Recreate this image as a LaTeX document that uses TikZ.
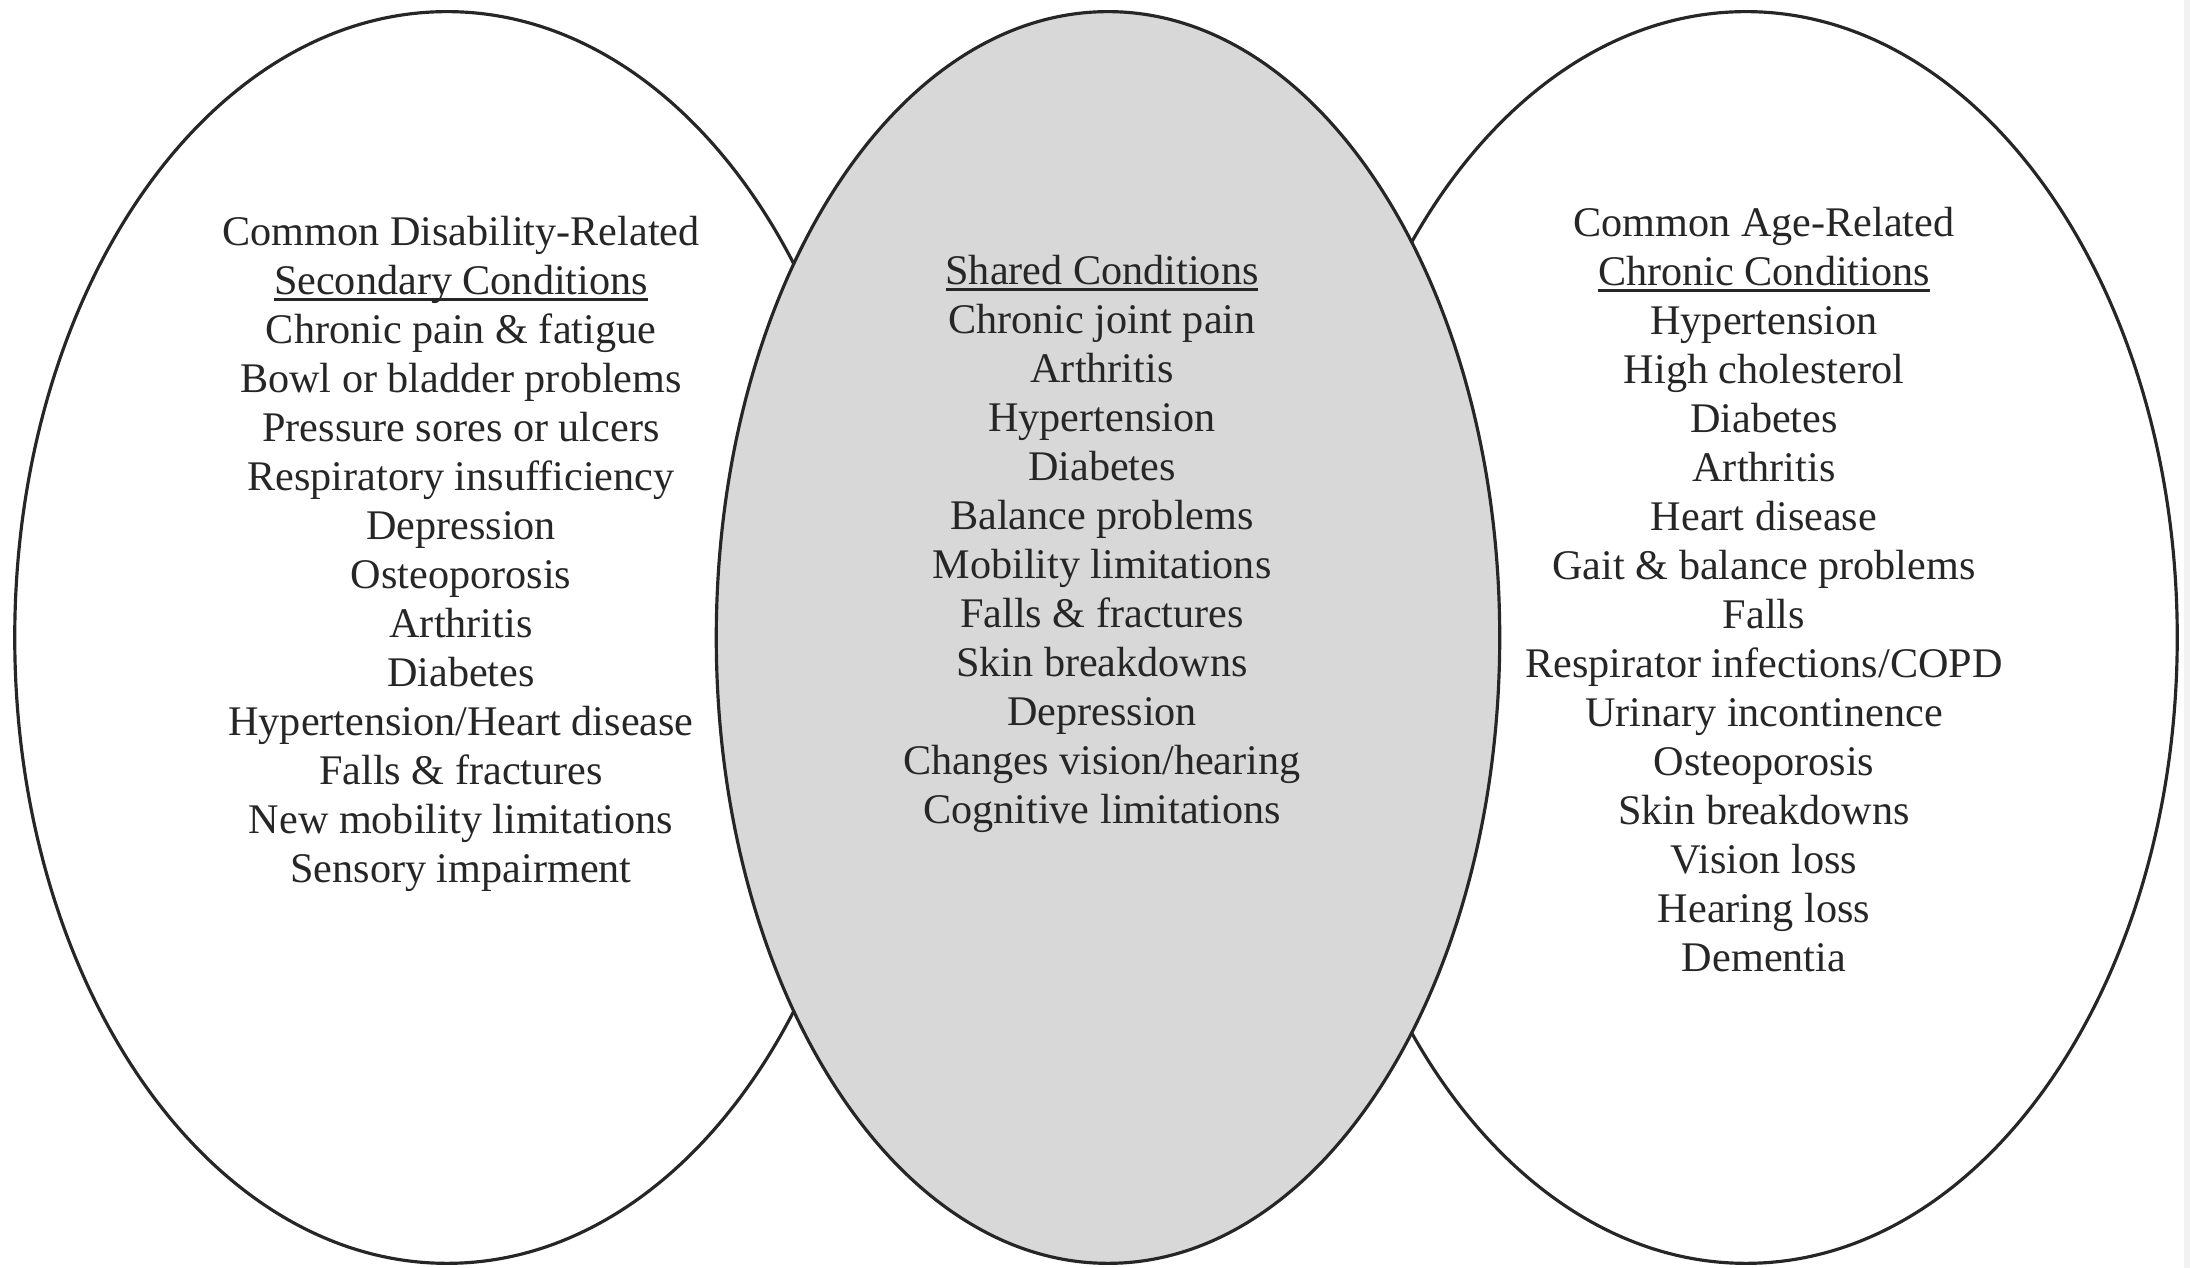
\documentclass[tikz,border=0pt]{standalone}
\usepackage{fontspec}
\setmainfont{Liberation Serif}
\usetikzlibrary{shapes.geometric}
\definecolor{shared}{RGB}{216,216,216}
\definecolor{ink}{RGB}{38,38,38}
\begin{document}
\begin{tikzpicture}[x=0.01cm,y=-0.01cm,
  circ/.style={ellipse, draw=ink, line width=0.9pt, inner sep=0pt, outer sep=0pt},
  lbl/.style={anchor=base, inner sep=0pt, outer sep=0pt, text=ink, font=\fontsize{12}{14}\selectfont},
  uline/.style={draw=ink, line width=0.8pt}]
\useasboundingbox (0,0) rectangle (2190,1268);
\fill[white] (0,0) rectangle (2190,1268);
\fill[black!5] (2184,0) rectangle (2190,1268);
\node[circ, minimum width=8.64cm, minimum height=12.51cm] (left) at (447,637.5) {};
\node[circ, minimum width=8.62cm, minimum height=12.51cm] (right) at (1746,637.5) {};
\node[circ, fill=shared, minimum width=7.83cm, minimum height=12.51cm] (mid) at (1108,637.5) {};
\foreach \t [count=\i from 0] in {Common Disability-Related, Secondary Conditions, Chronic pain \& fatigue, Bowl or bladder problems, Pressure sores or ulcers, Respiratory insufficiency, Depression, Osteoporosis, Arthritis, Diabetes, Hypertension/Heart disease, Falls \& fractures, New mobility limitations, Sensory impairment}
  \node[lbl] (L\i) at (461, 246+49*\i) {\t};
\foreach \t [count=\i from 0] in {Shared Conditions, Chronic joint pain, Arthritis, Hypertension, Diabetes, Balance problems, Mobility limitations, Falls \& fractures, Skin breakdowns, Depression, Changes vision/hearing, Cognitive limitations}
  \node[lbl] (M\i) at (1102, 285+49*\i) {\t};
\foreach \t [count=\i from 0] in {Common Age-Related, Chronic Conditions, Hypertension, High cholesterol, Diabetes, Arthritis, Heart disease, Gait \& balance problems, Falls, Respirator infections/COPD, Urinary incontinence, Osteoporosis, Skin breakdowns, Vision loss, Hearing loss, Dementia}
  \node[lbl] (R\i) at (1764, 237+49*\i) {\t};
\draw[uline] ([yshift=-1.3pt]L1.base west) -- ([yshift=-1.3pt]L1.base east);
\draw[uline] ([yshift=-1.3pt]M0.base west) -- ([yshift=-1.3pt]M0.base east);
\draw[uline] ([yshift=-1.3pt]R1.base west) -- ([yshift=-1.3pt]R1.base east);
\end{tikzpicture}
\end{document}
